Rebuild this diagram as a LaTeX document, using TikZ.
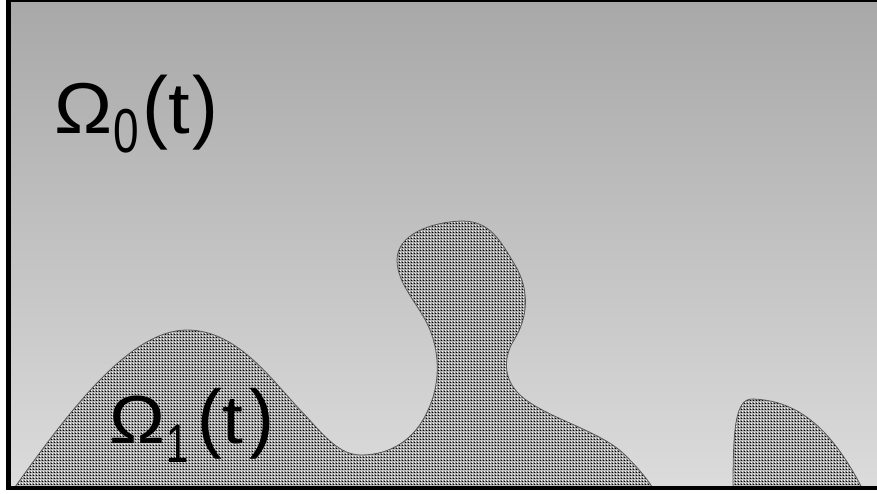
\documentclass[tikz,border=0pt]{standalone}
\usepackage{fontspec}
\setmainfont{Liberation Sans}
\usetikzlibrary{patterns}
\pgfdeclarepatterninherentlycolored{specks}{\pgfpointorigin}{\pgfqpoint{3pt}{3pt}}{\pgfqpoint{3pt}{3pt}}{%
  \pgfsetfillcolor{black!45}%
  \pgfpathrectangle{\pgfpointorigin}{\pgfqpoint{3pt}{3pt}}\pgfusepath{fill}%
  \pgfsetfillcolor{black}%
  \pgfpathrectangle{\pgfqpoint{0pt}{0pt}}{\pgfqpoint{1.1pt}{1.1pt}}\pgfusepath{fill}%
  \pgfsetfillcolor{white}%
  \pgfpathrectangle{\pgfqpoint{1.5pt}{1.5pt}}{\pgfqpoint{1pt}{1pt}}\pgfusepath{fill}%
}
\tikzset{
  region/.style={pattern=specks},
  rim/.style={draw=black!65, line width=0.8pt},
  biglabel/.style={anchor=base west, inner sep=0pt, text=black}
}
\newcommand{\wideg}[2]{\scalebox{#1}[1]{#2}}
\newcommand{\tallp}[2]{\scalebox{#1}[1.12]{#2}}
\newcommand{\subdig}[2]{\raisebox{-19pt}{\scalebox{1}[1.35]{\fontsize{#1}{#1}\selectfont #2}}}
\begin{document}
\begin{tikzpicture}[x=1pt,y=-1pt]
\useasboundingbox (0,0) rectangle (877,493);
\fill[white] (0,0) rectangle (877,493);
\fill[black] (6,0) rectangle (877,490);
\shade[top color=black!34, bottom color=black!14] (11,2.5) rectangle (877,485);
\begin{scope}
\clip (11,2.5) rectangle (877,485);
\path[region] (15,487)
  .. controls (70,410) and (130,330) .. (187,330)
  .. controls (240,330) and (275,385) .. (305,415)
  .. controls (325,437) and (340,455) .. (361,455)
  .. controls (390,455) and (415,440) .. (428,410)
  .. controls (440,385) and (440,355) .. (430,330)
  .. controls (420,305) and (397,285) .. (397,260)
  .. controls (397,235) and (430,222) .. (462,221)
  .. controls (490,221) and (500,240) .. (515,265)
  .. controls (530,290) and (528,318) .. (514,340)
  .. controls (504,356) and (502,378) .. (520,395)
  .. controls (545,418) and (600,430) .. (625,455)
  .. controls (640,470) and (648,480) .. (654,490) -- (15,490) -- cycle;
\draw[rim] (15,487)
  .. controls (70,410) and (130,330) .. (187,330)
  .. controls (240,330) and (275,385) .. (305,415)
  .. controls (325,437) and (340,455) .. (361,455)
  .. controls (390,455) and (415,440) .. (428,410)
  .. controls (440,385) and (440,355) .. (430,330)
  .. controls (420,305) and (397,285) .. (397,260)
  .. controls (397,235) and (430,222) .. (462,221)
  .. controls (490,221) and (500,240) .. (515,265)
  .. controls (530,290) and (528,318) .. (514,340)
  .. controls (504,356) and (502,378) .. (520,395)
  .. controls (545,418) and (600,430) .. (625,455)
  .. controls (640,470) and (648,480) .. (654,490);
\path[region] (733,490)
  .. controls (733,430) and (735,399) .. (752,399)
  .. controls (795,400) and (830,425) .. (863,490) -- cycle;
\draw[rim] (733,490)
  .. controls (733,430) and (735,399) .. (752,399)
  .. controls (795,400) and (830,425) .. (863,490);
\end{scope}
\node[biglabel] (omega0) at (54,133)
  {\fontsize{72}{72}\selectfont \wideg{1.08}{Ω}\kern1pt\subdig{46}{0}\kern3.4pt\tallp{1.08}{(}\wideg{1.08}{t}\kern3pt\tallp{1.08}{)}};
\node[biglabel] (omega1) at (109,443)
  {\fontsize{68}{68}\selectfont \wideg{1.1}{Ω}\kern1.5pt\subdig{40}{1}\kern9pt\tallp{1.1}{(}\wideg{1.1}{t}\kern5.5pt\tallp{1.1}{)}};
\end{tikzpicture}
\end{document}
